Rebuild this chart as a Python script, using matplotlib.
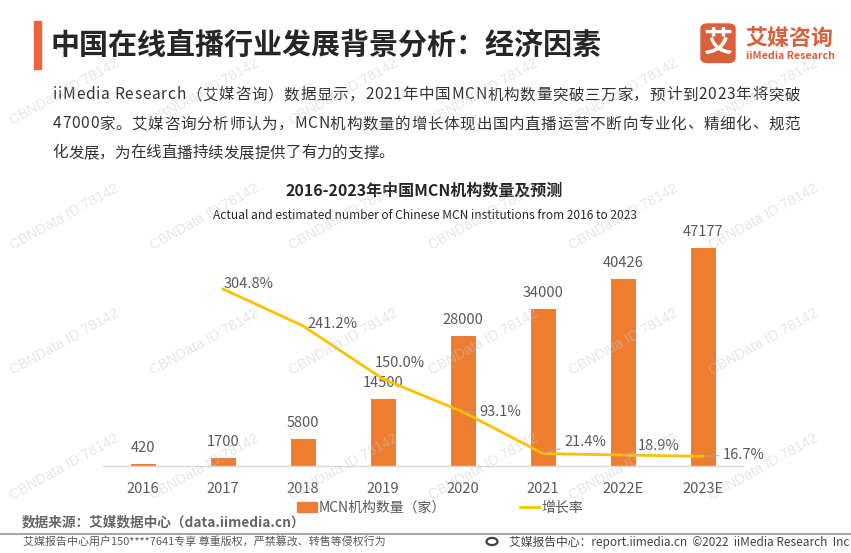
import numpy as np
import matplotlib
matplotlib.use("Agg")
import matplotlib.pyplot as plt
from matplotlib import font_manager, ft2font
from matplotlib.font_manager import FontProperties
from matplotlib.patches import Rectangle, FancyBboxPatch, Circle
from matplotlib.lines import Line2D

plt.rcParams['font.family'] = ['Noto Sans CJK SC', 'DejaVu Sans']

# ---------------- data ----------------
years = ['2016', '2017', '2018', '2019', '2020', '2021', '2022E', '2023E']
mcn_counts = [420, 1700, 5800, 14500, 28000, 34000, 40426, 47177]
growth_rate = [np.nan, 304.8, 241.2, 150.0, 93.1, 21.4, 18.9, 16.7]
growth_labels = ['', '304.8%', '241.2%', '150.0%', '93.1%', '21.4%', '18.9%', '16.7%']
legend_labels = ['MCN机构数量（家）', '增长率']

title = '中国在线直播行业发展背景分析：经济因素'
para_lines = [
    'iiMedia Research（艾媒咨询）数据显示，2021年中国MCN机构数量突破三万家，预计到2023年将突破',
    '47000家。艾媒咨询分析师认为，MCN机构数量的增长体现出国内直播运营不断向专业化、精细化、规范',
    '化发展，为在线直播持续发展提供了有力的支撑。',
]
chart_title = '2016-2023年中国MCN机构数量及预测'
chart_subtitle = 'Actual and estimated number of Chinese MCN institutions from 2016 to 2023'
source_text = '数据来源：艾媒数据中心（data.iimedia.cn）'
footer_left = '艾媒报告中心用户150****7641专享 尊重版权，严禁篡改、转售等侵权行为'
footer_right = '艾媒报告中心：report.iimedia.cn  ©2022  iiMedia Research  Inc'
watermark = 'CBNData ID:78142'

# ---------------- layout helpers ----------------
W, H = 851, 553
fig = plt.figure(figsize=(W / 100, H / 100), dpi=100)
fig.patch.set_facecolor('white')


def fx(px):
    return px / W


def fy(py):
    return 1 - py / H


BAR_C = '#ED7D31'
LINE_C = '#FFC000'
GREY = '#595959'
LOGO_C = '#DA5F3B'

# ---------------- chart ----------------
ax_left, ax_right, ax_bottom, ax_top = 103, 743, 466, 240
ax = fig.add_axes([fx(ax_left), fy(ax_bottom), fx(ax_right - ax_left), (ax_bottom - ax_top) / H])
ax.set_facecolor('none')
x = np.arange(len(years))
ax.bar(x, mcn_counts, width=0.3125, color=BAR_C, zorder=2)
ax.set_xlim(-0.5, len(years) - 0.5)
ax.set_ylim(0, 48843)
for s in ['top', 'left', 'right']:
    ax.spines[s].set_visible(False)
ax.spines['bottom'].set_color('#d9d9d9')
ax.spines['bottom'].set_linewidth(1.0)
ax.set_yticks([])
ax.set_xticks(x)
ax.set_xticklabels(years, fontsize=10.5, color=GREY)
ax.tick_params(axis='x', length=0, pad=16.5)
for lab in ax.get_xticklabels():
    lab.set_verticalalignment('center')

for xi, v in zip(x, mcn_counts):
    ax.annotate(f'{v}', xy=(xi, v), xytext=(0, 11.5), textcoords='offset points',
                ha='center', va='center', fontsize=10.5, color=GREY)

ax2 = ax.twinx()
ax2.set_ylim(0, 389.2)
ax2.set_axis_off()
ln, = ax2.plot(x, growth_rate, color=LINE_C, lw=2.0, zorder=3)

# label offsets in pixels (dx, dy up), alignment, leader line
label_cfg = {
    1: (1, 5, 'left', False),
    2: (4, 2, 'left', False),
    3: (-8, 16, 'left', False),
    4: (16, 0, 'left', True),
    5: (21, 12, 'left', True),
    6: (15, 9, 'left', True),
    7: (20, 1.5, 'left', True),
}
for i, lab in enumerate(growth_labels):
    if not lab:
        continue
    dx, dy, ha, leader = label_cfg[i]
    kw = {}
    if leader:
        kw['arrowprops'] = dict(arrowstyle='-', color='#a6a6a6', lw=0.8, shrinkA=1, shrinkB=0)
    ax2.annotate(lab, xy=(x[i], growth_rate[i]), xytext=(dx * 0.72, dy * 0.72),
                 textcoords='offset points', ha=ha, va='center', fontsize=10.5,
                 color=GREY, zorder=4, **kw)

# legend
bars_handle = Rectangle((0, 0), 1, 1, color=BAR_C)
line_handle = Line2D([0], [0], color=LINE_C, lw=2.0)
leg = fig.legend([bars_handle, line_handle], legend_labels, loc='center',
                 bbox_to_anchor=(fx(440), fy(508)), bbox_transform=fig.transFigure,
                 ncol=2, frameon=False, fontsize=10, handlelength=1.4, handleheight=0.65,
                 handletextpad=0.15, columnspacing=5.3, borderpad=0)
for t in leg.get_texts():
    t.set_color(GREY)

# ---------------- header ----------------
fig.add_artist(Rectangle((fx(34), fy(69)), fx(7), (69 - 21) / H, color='#EF643C',
                         transform=fig.transFigure))
fig.text(fx(50), fy(45), title, fontsize=20.9, fontweight='bold', color='#262626',
         ha='left', va='center')

# logo
fig.add_artist(FancyBboxPatch((fx(701), fy(62.5)), fx(34), (62.5 - 24) / H,
                              boxstyle='round,pad=0,rounding_size=0.008',
                              color=LOGO_C, transform=fig.transFigure))
fig.text(fx(718), fy(43), '艾', fontsize=21, fontweight='bold', color='white',
         ha='center', va='center')
fig.text(fx(745), fy(38.5), '艾媒咨询', fontsize=15.8, fontweight='bold', color=LOGO_C,
         ha='left', va='center')
fig.text(fx(746), fy(56), 'iiMedia Research', fontsize=7.6, fontweight='bold', color=LOGO_C,
         ha='left', va='center')

# paragraph with justification
PARA_FS = 11.2


def char_advances(text, fs, weight='normal'):
    fp = FontProperties(family='Noto Sans CJK SC', size=fs, weight=weight)
    path = font_manager.findfont(fp)
    f = ft2font.FT2Font(path, hinting_factor=1)
    f.set_size(fs, 100)
    try:
        flag = ft2font.LoadFlags.NO_HINTING
    except AttributeError:
        flag = ft2font.LOAD_NO_HINTING
    advs = []
    for ch in text:
        g = f.load_char(ord(ch), flags=flag)
        advs.append(g.linearHoriAdvance / 65536)
    return advs


def draw_line(text, x0, y, fs, x1=None, color='#333333', weight='normal'):
    advs = char_advances(text, fs, weight)
    extra = 0
    if x1 is not None and len(text) > 1:
        extra = (x1 - x0 - sum(advs)) / (len(text) - 1)
    pos = x0
    for ch, a in zip(text, advs):
        fig.text(fx(pos), fy(y), ch, fontsize=fs, color=color, ha='left', va='center',
                 fontweight=weight)
        pos += a + extra


draw_line(para_lines[0], 52.5, 95, PARA_FS, x1=800)
draw_line(para_lines[1], 52.5, 124, PARA_FS, x1=800)
draw_line(para_lines[2], 52.5, 153, PARA_FS)

fig.text(fx(424), fy(190.5), chart_title, fontsize=11.5, fontweight='bold', color='#262626',
         ha='center', va='center')
fig.text(fx(424.5), fy(215.5), chart_subtitle, fontsize=8.6, color='#262626',
         ha='center', va='center')

# ---------------- footer ----------------
fig.text(fx(21.5), fy(522.5), source_text, fontsize=9.8, fontweight='bold', color='#666666',
         ha='left', va='center')
fig.add_artist(Line2D([0, 1], [fy(534), fy(534)], color='#a6a6a6', lw=1.5,
                      transform=fig.transFigure))
fig.text(fx(23), fy(542), footer_left, fontsize=7.9, color=GREY, ha='left', va='center')
fig.add_artist(Circle((fx(492), fy(541.5)), 5.5 / W, transform=fig.transFigure,
                      facecolor='none', edgecolor='#404040', lw=1.6))
fig.text(fx(849), fy(542), footer_right, fontsize=8.5, color='#404040', ha='right', va='center')

# ---------------- watermarks ----------------
for yy in [125, 250, 375, 500]:
    for i in range(6):
        xx = 13 + 139.7 * i
        fig.text(fx(xx), fy(yy), watermark, fontsize=10.3, family='Liberation Sans',
                 color='#c8c8c8', alpha=0.45, rotation=29, rotation_mode='anchor',
                 ha='left', va='baseline', zorder=10)

fig.savefig('out.png', dpi=100, facecolor='white')
